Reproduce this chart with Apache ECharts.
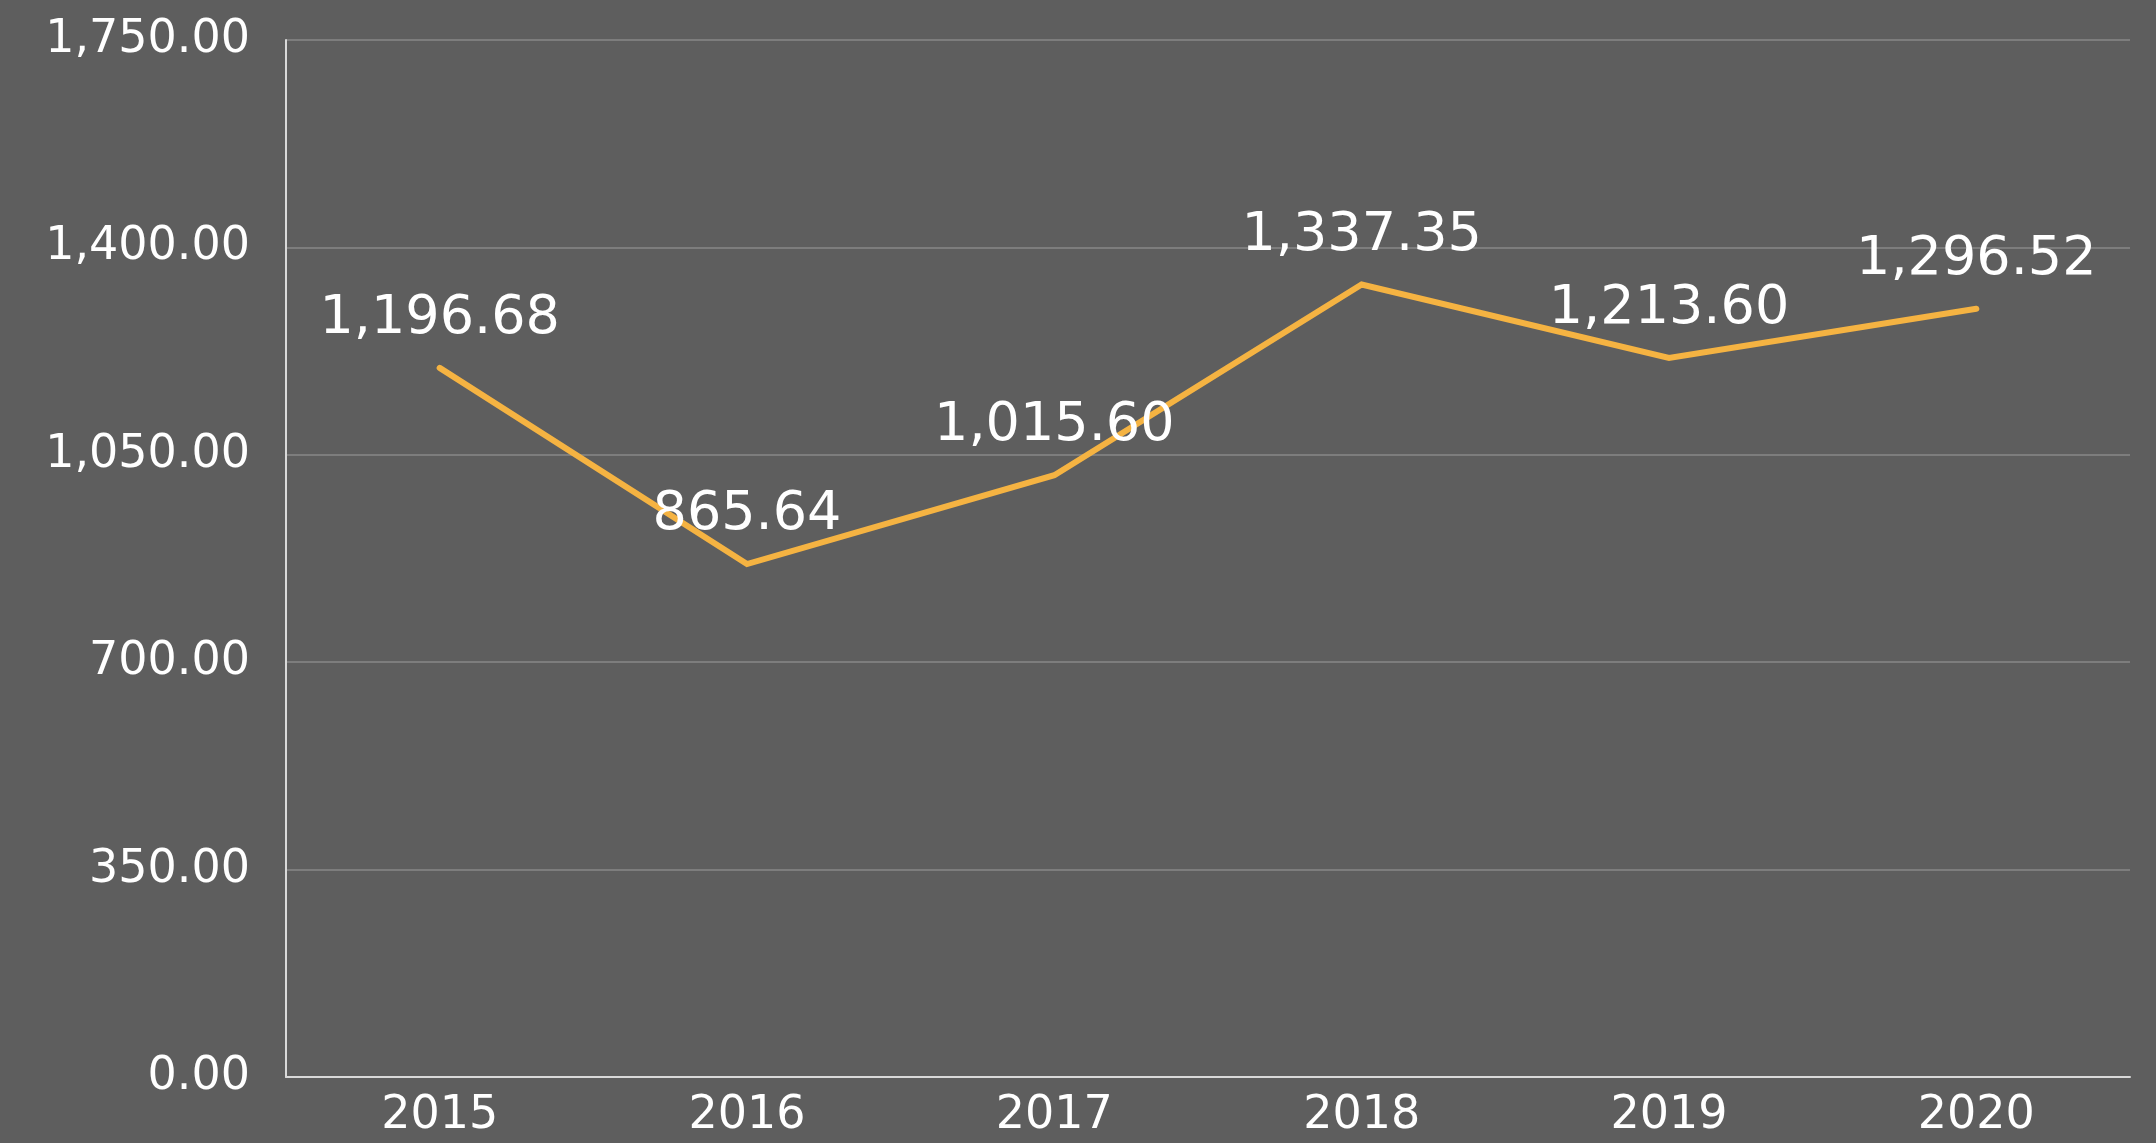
<!DOCTYPE html>
<html>
<head>
<meta charset="utf-8">
<script src="https://cdn.jsdelivr.net/npm/echarts@6/dist/echarts.min.js"></script>
<style>
  html, body { margin: 0; padding: 0; background: #5e5e5e; }
  #chart { width: 2156px; height: 1143px; }
</style>
</head>
<body>
<div id="chart"></div>
<script>
// 年份
const years = ['2015', '2016', '2017', '2018', '2019', '2020']
// 数值
const values = [1196.68, 865.64, 1015.60, 1337.35, 1213.60, 1296.52]

const fmt = v => v.toLocaleString('en-US', { minimumFractionDigits: 2, maximumFractionDigits: 2 })
const fontFamily = '"DejaVu Sans", "Noto Sans", sans-serif'

const myChart = echarts.init(document.getElementById('chart'))
const options = {
  backgroundColor: '#5e5e5e',
  grid: { left: 286, right: 26, top: 40, bottom: 66 },
  xAxis: {
    type: 'category',
    data: years,
    boundaryGap: true,
    axisLine: { lineStyle: { color: '#d9d9d9', width: 2 } },
    axisTick: { show: false },
    axisLabel: { color: '#ffffff', fontSize: 46, fontFamily: fontFamily, margin: 16 }
  },
  yAxis: {
    type: 'value',
    min: 0,
    max: 1750,
    interval: 350,
    axisLine: { show: true, lineStyle: { color: '#d9d9d9', width: 2 } },
    axisTick: { show: false },
    splitLine: { lineStyle: { color: '#7d7d7d', width: 2 } },
    axisLabel: {
      color: '#ffffff',
      fontSize: 46,
      fontFamily: fontFamily,
      margin: 36,
      formatter: fmt
    }
  },
  series: [
    {
      type: 'line',
      data: values,
      symbol: 'circle',
      symbolSize: 0.1, // 隐藏点但保留标签
      showSymbol: true,
      itemStyle: { color: '#f5b342' },
      lineStyle: { color: '#f5b342', width: 6, cap: 'round', join: 'miter' },
      label: {
        show: true,
        position: 'top',
        distance: 22,
        color: '#ffffff',
        fontSize: 54,
        fontFamily: fontFamily,
        formatter: p => fmt(p.value)
      },
      emphasis: { disabled: true },
      z: 3
    }
  ]
}
myChart.setOption(options)
</script>
</body>
</html>
